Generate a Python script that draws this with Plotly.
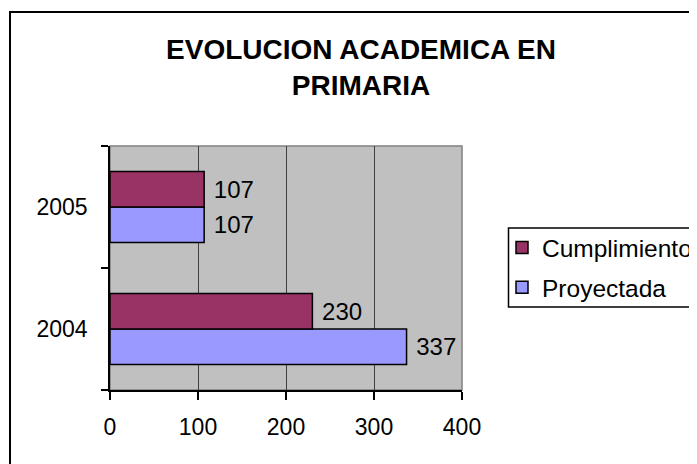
import plotly.graph_objects as go

categories = ["2004", "2005"]
proyectada = [337, 107]
cumplimiento = [230, 107]
x_ticks = [0, 100, 200, 300, 400]
title_text = "EVOLUCION ACADEMICA EN<br>PRIMARIA"

FONT = "Arial, 'Liberation Sans', sans-serif"
W, H = 697, 464
OFF = 8  # page offset of the figure in the browser window

def fx(p):
    return (p - OFF) / W

def fy(p):
    return (H - (p - OFF)) / H

# plot area in screen pixels
PL, PR, PT, PB = 110, 462, 146, 390

fig = go.Figure()
fig.add_trace(go.Bar(
    y=categories, x=proyectada, name="Proyectada", orientation="h",
    legendgroup="p", legendrank=2,
    marker=dict(color="#9999FF", line=dict(color="#000000", width=1.5)),
    text=[f" {v}" for v in proyectada], textposition="outside",
    textfont=dict(family=FONT, size=24, color="#000000"),
    constraintext="none", cliponaxis=False,
))
fig.add_trace(go.Bar(
    y=categories, x=cumplimiento, name="Cumplimiento", orientation="h",
    legendgroup="c", legendrank=1,
    marker=dict(color="#993366", line=dict(color="#000000", width=1.5)),
    text=[f" {v}" for v in cumplimiento], textposition="outside",
    textfont=dict(family=FONT, size=24, color="#000000"),
    constraintext="none", cliponaxis=False,
))

shapes = [
    # plot frame (gray top/right)
    dict(type="rect", xref="x domain", yref="y domain", x0=0, x1=1, y0=0, y1=1,
         line=dict(color="#808080", width=1.5), layer="below"),
    # outer chart border
    dict(type="rect", xref="paper", yref="paper",
         x0=fx(10), x1=fx(720), y0=fy(490), y1=fy(12),
         line=dict(color="#000000", width=2)),
    # legend box
    dict(type="rect", xref="paper", yref="paper",
         x0=fx(508.5), x1=fx(695.5), y0=fy(307), y1=fy(228),
         line=dict(color="#000000", width=1.5)),
]

fig.update_layout(
    width=W, height=H,
    margin=dict(l=0, r=0, t=0, b=0, pad=0, autoexpand=False),
    paper_bgcolor="#FFFFFF", plot_bgcolor="#C0C0C0",
    barmode="group", bargap=0.42, bargroupgap=0,
    font=dict(family=FONT, size=23, color="#000000"),
    title=dict(text=title_text, x=fx(361), xref="paper", xanchor="center",
               y=fy(58.5), yref="container", yanchor="top",
               font=dict(family=FONT, size=28, color="#000000", weight="bold")),
    showlegend=True,
    legend=dict(x=fx(502), y=fy(225), xanchor="left", yanchor="top",
                xref="paper", yref="paper",
                bgcolor="rgba(0,0,0,0)", borderwidth=0,
                traceorder="grouped", tracegroupgap=5,
                font=dict(family=FONT, size=24.5, color="#000000"),
                itemwidth=30),
    shapes=shapes,
    xaxis=dict(domain=[fx(PL), fx(PR)], range=[0, 400], tickvals=x_ticks,
               ticktext=[str(v) for v in x_ticks],
               showgrid=True, gridcolor="#404040", gridwidth=1,
               showline=True, linecolor="#000000", linewidth=1.5,
               ticks="outside", ticklen=8, tickcolor="#000000", tickwidth=1.5,
               ticklabelstandoff=8, automargin=False,
               zeroline=False, fixedrange=True,
               tickfont=dict(family=FONT, size=23, color="#000000")),
    yaxis=dict(domain=[fy(PB), fy(PT)], type="category", categoryorder="array",
               categoryarray=categories,
               showgrid=False, showline=True, linecolor="#000000", linewidth=1.5,
               ticks="outside", ticklen=7, tickcolor="#000000", tickwidth=1.5,
               tickson="boundaries", ticklabelstandoff=16, automargin=False,
               zeroline=False, fixedrange=True,
               tickfont=dict(family=FONT, size=23, color="#000000")),
)

fig.write_html("out.html")
